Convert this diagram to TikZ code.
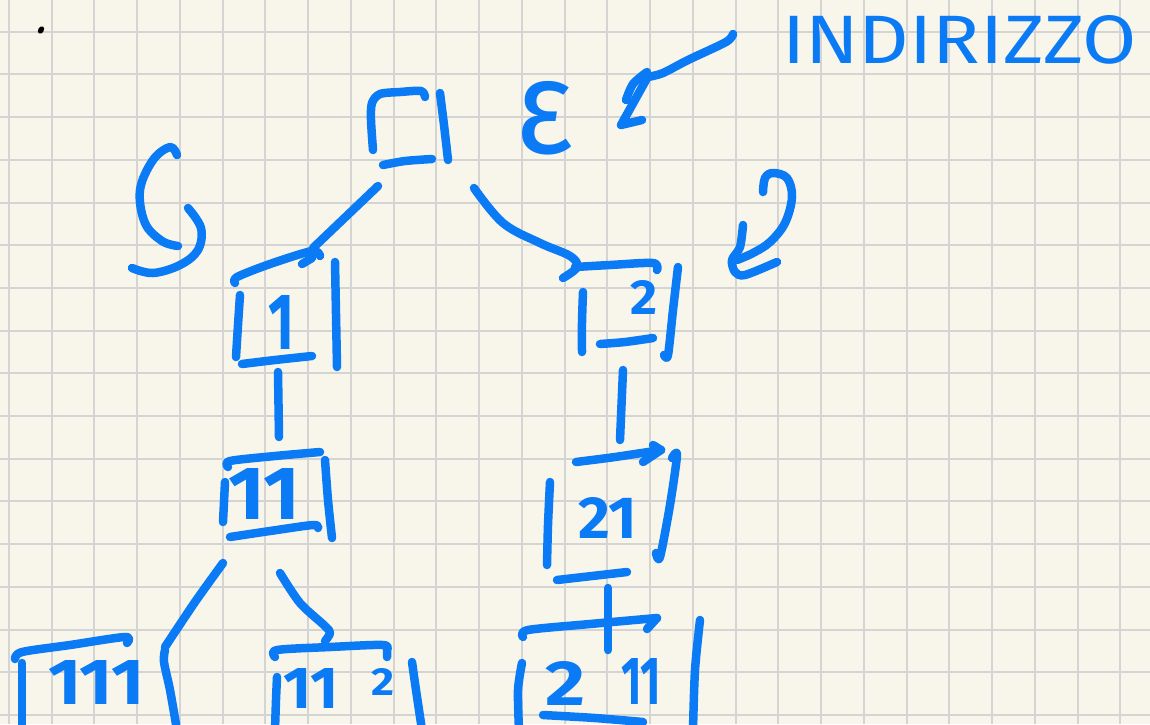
\documentclass[tikz,border=0pt]{standalone}
\usepackage{fontspec}
\setmainfont{Fira Sans}[Numbers={Proportional,Lining}]
\usepackage{graphicx}
\definecolor{paper}{RGB}{248,246,235}
\definecolor{gridc}{RGB}{212,212,212}
\definecolor{ink}{RGB}{10,122,245}
\tikzset{
  inkline/.style={draw=ink, line width=8.5pt, line cap=round, line join=round},
  gridline/.style={draw=gridc, line width=2pt},
  lbl/.style={text=ink, inner sep=0pt, outer sep=0pt, anchor=south west, font=\bfseries},
  lblthin/.style={lbl, font=\mdseries},
}
\newcommand{\rb}[3]{\resizebox{#1pt}{#2pt}{#3}}
\begin{document}
\begin{tikzpicture}[x=1pt,y=-1pt]
\fill[paper] (0,0) rectangle (1150,724);
\useasboundingbox (0,0) rectangle (1150,724);
% grid
\foreach \i in {0,...,26} \draw[gridline] ({8.8+42.75*\i},0) -- ({8.8+42.75*\i},724);
\foreach \j in {0,...,16} \draw[gridline] (0,{31.7+42.7*\j}) -- (1150,{31.7+42.7*\j});
% stray dot
\fill[black, rotate around={-30:(41,30)}] (41,30) ellipse (2.8pt and 4pt);

% ---------- root box ----------
\draw[inkline] plot[smooth, tension=0.5] coordinates {(373,150) (371,120) (372,103) (380,94) (400,92) (421,91) (425,97)};
\draw[inkline] plot[smooth] coordinates {(440,93) (444,125) (448,160)};
\draw[inkline] plot[smooth] coordinates {(383,165) (405,161) (432,159)};

% root -> 1
\draw[inkline] (378,186) -- (313,248);
\draw[inkline] (302,264) -- (312,258);
% box 1
\draw[inkline] plot[smooth, tension=0.5] coordinates {(235,283) (237,277) (270,264) (312,251) (320,256)};
\draw[inkline] plot[smooth] coordinates {(240,295) (238,325) (236,357)};
\draw[inkline] plot[smooth] coordinates {(242,364) (275,360) (312,356)};
\draw[inkline] plot[smooth] coordinates {(335,262) (336,314) (337,367)};
% 1 -> 11
\draw[inkline] (278,372) -- (279,437);
% box 11
\draw[inkline] plot[smooth, tension=0.5] coordinates {(228,467) (230,461) (275,456) (320,452)};
\draw[inkline] plot[smooth] coordinates {(225,482) (224,502) (223,522)};
\draw[inkline] plot[smooth, tension=0.5] coordinates {(230,537) (270,531) (313,525) (318,528)};
\draw[inkline] plot[smooth] coordinates {(325,460) (328,500) (332,538)};
% 11 -> 111, 11 -> 112
\draw[inkline] plot[smooth] coordinates {(223,563) (195,602) (165,647)};
\draw[inkline] plot[smooth, tension=0.5] coordinates {(280,573) (300,603) (325,626) (330,633) (325,641)};
% box 111
\draw[inkline] plot[smooth, tension=0.5] coordinates {(15,659) (22,652) (70,645) (125,637) (127,643)};
\draw[inkline] (22,663) -- (22,730);
\draw[inkline] plot[smooth] coordinates {(165,650) (164,662) (170,690) (177,730)};
% box 112
\draw[inkline] plot[smooth, tension=0.5] coordinates {(275,657) (277,650) (330,647) (383,645) (387,651) (387,657)};
\draw[inkline] plot[smooth] coordinates {(277,677) (276,700) (275,730)};
\draw[inkline] plot[smooth] coordinates {(412,662) (416,690) (422,730)};

% root -> 2
\draw[inkline] plot[smooth, tension=0.6] coordinates {(474,188) (503,223) (540,243) (570,256) (577,267) (563,278)};
% box 2
\draw[inkline] plot[smooth, tension=0.5] coordinates {(575,267) (610,265) (653,263) (657,270)};
\draw[inkline] plot[smooth] coordinates {(583,292) (582,322) (582,352)};
\draw[inkline] plot[smooth] coordinates {(600,344) (625,342) (653,338)};
\draw[inkline] plot[smooth] coordinates {(678,267) (673,310) (668,355) (664,355)};
% 2 -> 21
\draw[inkline] (623,370) -- (620,440);
% box 21
\draw[inkline] plot[smooth] coordinates {(576,462) (615,457) (661,450)};
\draw[inkline] (653,445) -- (661,450) -- (643,462);
\draw[inkline] plot[smooth] coordinates {(550,482) (548,525) (547,565)};
\draw[inkline] plot[smooth, tension=0.5] coordinates {(672,458) (677,455) (670,505) (660,557) (656,553)};
\draw[inkline] (557,580) -- (627,572);
% 21 -> 211
\draw[inkline] (608,588) -- (608,650);
% box 211
\draw[inkline] plot[smooth, tension=0.5] coordinates {(523,637) (528,630) (590,624) (657,618)};
\draw[inkline] (647,629) -- (657,618);
\draw[inkline] plot[smooth] coordinates {(522,663) (518,690) (519,730)};
\draw[inkline] plot[smooth] coordinates {(543,715) (595,718) (643,722)};
\draw[inkline] plot[smooth] coordinates {(700,620) (695,670) (693,730)};

% left curl
\draw[inkline] plot[smooth, tension=0.6] coordinates {(177,155) (170,147) (153,160) (140,190) (145,223) (162,241) (178,246)};
\draw[inkline] plot[smooth, tension=0.6] coordinates {(188,208) (201,228) (198,250) (180,265) (153,273) (132,268)};
% right curl
\draw[inkline] plot[smooth, tension=0.6] coordinates {(763,192) (765,178) (773,173) (787,178) (792,197) (785,223) (770,242) (753,253) (737,260)};
\draw[inkline] plot[smooth, tension=0.5] coordinates {(743,225) (740,247) (732,260) (735,272) (745,275) (777,262)};

% INDIRIZZO arrow
\draw[inkline] plot[smooth, tension=0.5] coordinates {(733,34) (726,42) (688,60) (663,73) (648,77)};
\draw[inkline] plot[smooth, tension=0.5] coordinates {(647,72) (633,84) (626,100)};
\draw[inkline] (646,80) -- (621,125) -- (642,120);

% ---------- labels ----------
\node[lblthin] (eps) at (515,155) {\rb{58}{72}{ε}};
\node[lblthin] (addr) at (782,64) {\rb{355}{48}{INDIRIZZO}};
\node[lbl] (n1) at (268,349) {\rb{26}{54}{1}};
\node[lbl] (n11) at (228,519) {\rb{72}{51}{11}};
\node[lbl] (n2) at (630,314) {\rb{27}{34}{2}};
\node[lbl] (n21) at (578,538) {\rb{59}{41}{21}};
\node[lbl] (n111) at (48,704) {\rb{97}{44}{111}};
\node[lbl] (n112a) at (283,708) {\rb{55}{40}{11}};
\node[lbl] (n112b) at (371,695) {\rb{23}{27}{2}};
\node[lbl] (n211a) at (545,705) {\rb{40}{44}{2}};
\node[lbl] (n211b) at (621,704) {\rb{40}{46}{11}};
\end{tikzpicture}
\end{document}
